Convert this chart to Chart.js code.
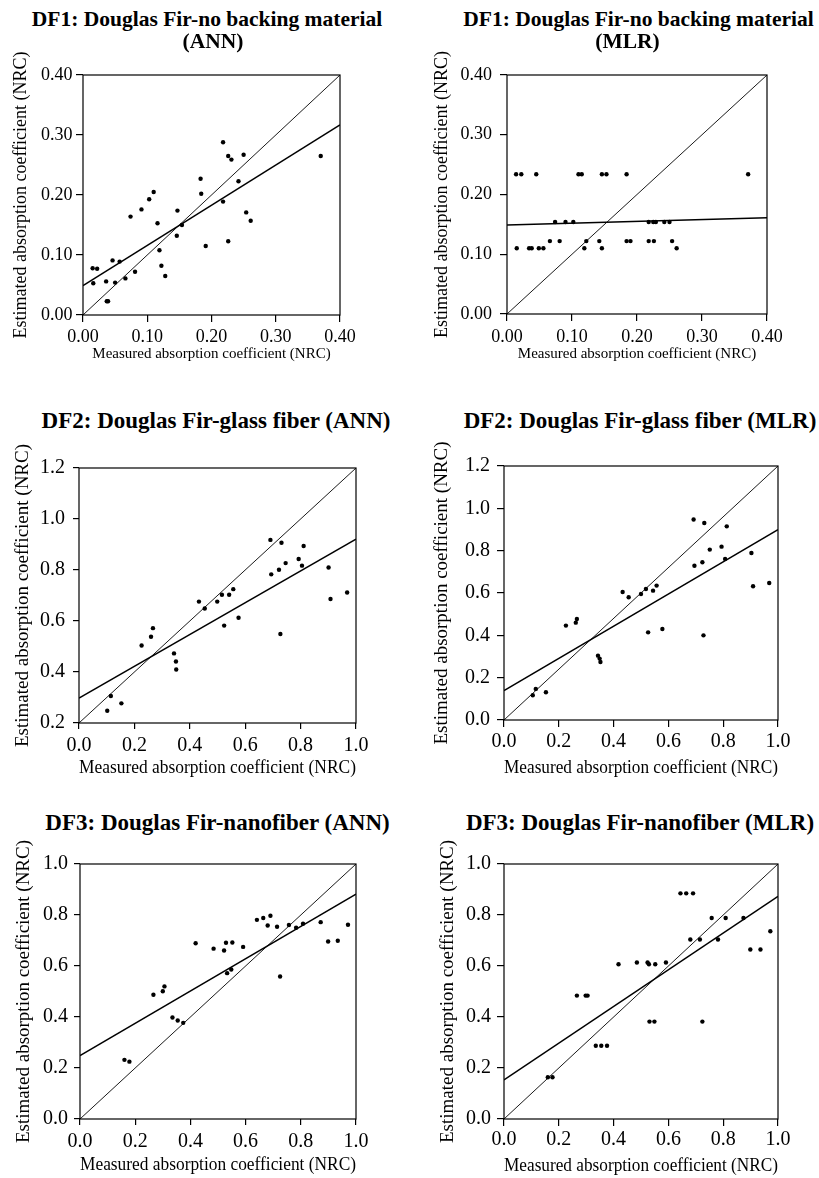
<!DOCTYPE html>
<html>
<head>
<meta charset="utf-8">
<script src="https://cdn.jsdelivr.net/npm/chart.js@4/dist/chart.umd.min.js"></script>
<style>
    html, body { margin: 0; padding: 0; background: #fff; }
    body { width: 819px; height: 1178px; position: relative; overflow: hidden; }
    canvas { position: absolute; }
    .ttl {
        position: absolute;
        font-family: 'Liberation Serif', 'Times New Roman', serif;
        font-weight: bold;
        color: #000;
        white-space: nowrap;
        line-height: 1;
        transform: translateX(-50%);
    }
</style>
</head>
<body>
<script>
// ---- data ----
const rangeDF1 = [0, 0.4];
const rangeUnit = [0, 1.0];
const rangeDF2annY = [0.2, 1.2];
const rangeDF2mlrY = [0, 1.2];

// DF1 (no backing material)
const df1AnnMeasured = [0.015, 0.022, 0.016, 0.036, 0.037, 0.039, 0.046, 0.050, 0.057, 0.066, 0.074, 0.081,
    0.091, 0.103, 0.110, 0.116, 0.119, 0.122, 0.128, 0.147, 0.146, 0.154, 0.183, 0.184, 0.191, 0.218,
    0.218, 0.226, 0.231, 0.226, 0.250, 0.242, 0.254, 0.261, 0.370];
const df1AnnEstimated = [0.078, 0.077, 0.053, 0.056, 0.023, 0.023, 0.091, 0.054, 0.089, 0.061, 0.164, 0.072,
    0.176, 0.193, 0.205, 0.153, 0.108, 0.082, 0.065, 0.174, 0.132, 0.150, 0.227, 0.202, 0.115, 0.288,
    0.189, 0.265, 0.259, 0.123, 0.267, 0.223, 0.171, 0.157, 0.265];
const df1AnnFit = [0.049, 0.317];

const df1MlrMeasured = [0.014, 0.022, 0.045, 0.110, 0.115, 0.146, 0.153, 0.184, 0.371,
    0.074, 0.090, 0.102, 0.218, 0.225, 0.229, 0.242, 0.250,
    0.066, 0.081, 0.122, 0.142, 0.184, 0.190, 0.218, 0.226, 0.254,
    0.015, 0.034, 0.038, 0.049, 0.056, 0.119, 0.146, 0.261];
const df1MlrEstimated = [0.234, 0.234, 0.234, 0.234, 0.234, 0.234, 0.234, 0.234, 0.234,
    0.154, 0.154, 0.154, 0.154, 0.154, 0.154, 0.154, 0.154,
    0.122, 0.122, 0.122, 0.122, 0.122, 0.122, 0.122, 0.122, 0.122,
    0.110, 0.110, 0.110, 0.110, 0.110, 0.110, 0.110, 0.110];
const df1MlrFit = [0.149, 0.161];

// DF2 (glass fiber)
const df2AnnMeasured = [0.102, 0.115, 0.153, 0.226, 0.260, 0.267, 0.343, 0.350, 0.351, 0.433, 0.454, 0.499,
    0.516, 0.524, 0.542, 0.557, 0.576, 0.691, 0.694, 0.722, 0.731, 0.727, 0.746, 0.793, 0.805, 0.811,
    0.901, 0.908, 0.968];
const df2AnnEstimated = [0.248, 0.306, 0.277, 0.504, 0.538, 0.572, 0.473, 0.441, 0.410, 0.676, 0.649, 0.676,
    0.703, 0.582, 0.703, 0.725, 0.613, 0.918, 0.783, 0.801, 0.907, 0.549, 0.827, 0.843, 0.817, 0.894,
    0.810, 0.686, 0.712];
const df2AnnFit = [0.298, 0.921];

const df2MlrMeasured = [0.105, 0.116, 0.153, 0.226, 0.262, 0.266, 0.343, 0.349, 0.352, 0.433, 0.455, 0.500,
    0.518, 0.526, 0.544, 0.557, 0.578, 0.692, 0.695, 0.724, 0.731, 0.728, 0.751, 0.794, 0.807, 0.813,
    0.903, 0.909, 0.968];
const df2MlrEstimated = [0.117, 0.147, 0.131, 0.446, 0.460, 0.477, 0.304, 0.290, 0.274, 0.605, 0.580, 0.595,
    0.619, 0.414, 0.611, 0.635, 0.430, 0.947, 0.729, 0.745, 0.931, 0.400, 0.805, 0.819, 0.761, 0.915,
    0.789, 0.632, 0.647];
const df2MlrFit = [0.139, 0.899];

// DF3 (nanofiber)
const df3AnnMeasured = [0.161, 0.179, 0.266, 0.300, 0.306, 0.335, 0.354, 0.374, 0.419, 0.484, 0.522, 0.529,
    0.533, 0.548, 0.552, 0.591, 0.641, 0.664, 0.680, 0.690, 0.714, 0.725, 0.757, 0.783, 0.808, 0.872,
    0.899, 0.934, 0.971];
const df3AnnEstimated = [0.232, 0.225, 0.487, 0.501, 0.520, 0.398, 0.386, 0.377, 0.689, 0.668, 0.661, 0.691,
    0.572, 0.586, 0.692, 0.675, 0.781, 0.788, 0.759, 0.797, 0.754, 0.559, 0.761, 0.750, 0.766, 0.772,
    0.696, 0.699, 0.762];
const df3AnnFit = [0.249, 0.882];

const df3MlrMeasured = [0.160, 0.177, 0.266, 0.298, 0.305, 0.335, 0.355, 0.376, 0.418, 0.485, 0.524, 0.529,
    0.552, 0.591, 0.531, 0.549, 0.644, 0.665, 0.690, 0.680, 0.715, 0.724, 0.758, 0.809, 0.781, 0.874,
    0.899, 0.936, 0.972];
const df3MlrEstimated = [0.164, 0.164, 0.484, 0.484, 0.484, 0.287, 0.287, 0.287, 0.607, 0.614, 0.614, 0.607,
    0.607, 0.614, 0.382, 0.382, 0.885, 0.885, 0.885, 0.704, 0.704, 0.382, 0.788, 0.788, 0.704, 0.788,
    0.665, 0.665, 0.736];
const df3MlrFit = [0.153, 0.873];

const xAxisTitle = 'Measured absorption coefficient (NRC)';
const yAxisTitle = 'Estimated absorption coefficient (NRC)';

// ---- layout ----
const FONT = "'Liberation Serif', 'Times New Roman', serif";

const panels = [
    { title: [['DF1: Douglas Fir-no backing material', 207, 19.5], ['(ANN)', 213, 41.5]], titleSize: 21.5,
      xs: df1AnnMeasured, ys: df1AnnEstimated, fit: df1AnnFit, xr: rangeDF1, yr: rangeDF1, step: 0.1, dec: 2,
      box: { l: 0, t: 50, w: 400, h: 320 }, plot: { l: 83, t: 75, r: 340, b: 315 },
      tick: 18, tickLen: 7, yPad: 3.5, xPad: 4, yTitle: 18, yTitleX: 21, xTitle: 15, xTitleY: 354 },
    { title: [['DF1: Douglas Fir-no backing material', 638.5, 20], ['(MLR)', 627.5, 41.5]], titleSize: 21.5,
      xs: df1MlrMeasured, ys: df1MlrEstimated, fit: df1MlrFit, xr: rangeDF1, yr: rangeDF1, step: 0.1, dec: 2,
      box: { l: 410, t: 50, w: 409, h: 320 }, plot: { l: 507, t: 75, r: 767, b: 314 },
      tick: 18, tickLen: 7, yPad: 8, xPad: 5, yTitle: 18, yTitleX: 442, xTitle: 15, xTitleY: 354 },
    { title: [['DF2: Douglas Fir-glass fiber (ANN)', 216, 420.5]], titleSize: 23,
      xs: df2AnnMeasured, ys: df2AnnEstimated, fit: df2AnnFit, xr: rangeUnit, yr: rangeDF2annY, step: 0.2, dec: 1,
      box: { l: 0, t: 440, w: 400, h: 340 }, plot: { l: 79, t: 468, r: 356, b: 723 },
      tick: 20, tickLen: 6, yPad: 8, xPad: 4.5, yTitle: 19, yTitleX: 23, xTitle: 19.5, xTitleY: 768 },
    { title: [['DF2: Douglas Fir-glass fiber (MLR)', 640, 420.5]], titleSize: 23,
      xs: df2MlrMeasured, ys: df2MlrEstimated, fit: df2MlrFit, xr: rangeUnit, yr: rangeDF2mlrY, step: 0.2, dec: 1,
      box: { l: 410, t: 440, w: 409, h: 340 }, plot: { l: 504, t: 466, r: 778, b: 720 },
      tick: 20, tickLen: 7, yPad: 7, xPad: 2.5, yTitle: 19, yTitleX: 442, xTitle: 19.5, xTitleY: 767.5 },
    { title: [['DF3: Douglas Fir-nanofiber (ANN)', 217.5, 822.5]], titleSize: 23,
      xs: df3AnnMeasured, ys: df3AnnEstimated, fit: df3AnnFit, xr: rangeUnit, yr: rangeUnit, step: 0.2, dec: 1,
      box: { l: 0, t: 840, w: 400, h: 338 }, plot: { l: 80, t: 864, r: 356, b: 1119 },
      tick: 20, tickLen: 6, yPad: 6, xPad: 4.5, yTitle: 19, yTitleX: 24, xTitle: 19.5, xTitleY: 1165 },
    { title: [['DF3: Douglas Fir-nanofiber (MLR)', 640, 822.5]], titleSize: 23,
      xs: df3MlrMeasured, ys: df3MlrEstimated, fit: df3MlrFit, xr: rangeUnit, yr: rangeUnit, step: 0.2, dec: 1,
      box: { l: 410, t: 840, w: 409, h: 338 }, plot: { l: 504, t: 864, r: 778, b: 1119 },
      tick: 20, tickLen: 7, yPad: 6, xPad: 1.5, yTitle: 19, yTitleX: 448, xTitle: 19.5, xTitleY: 1166.5 }
];

// box round the plot area
const framePlugin = {
    id: 'frame',
    afterDraw(chart) {
        const { ctx, chartArea: a } = chart;
        ctx.save();
        ctx.strokeStyle = '#000';
        ctx.lineWidth = 1.2;
        ctx.strokeRect(a.left, a.top, a.right - a.left, a.bottom - a.top);
        ctx.restore();
    }
};

function addTitle(p) {
    p.title.forEach(([text, cx, capY]) => {
        const d = document.createElement('div');
        d.className = 'ttl';
        d.textContent = text;
        d.style.fontSize = p.titleSize + 'px';
        d.style.left = cx + 'px';
        d.style.top = (capY - 0.507 * p.titleSize) + 'px';
        document.body.appendChild(d);
    });
}

function makeChart(p) {
    const cv = document.createElement('canvas');
    cv.width = p.box.w;
    cv.height = p.box.h;
    cv.style.left = p.box.l + 'px';
    cv.style.top = p.box.t + 'px';
    document.body.appendChild(cv);

    const yW = p.plot.l - p.box.l;
    const xH = p.box.t + p.box.h - p.plot.b;
    const bottom = p.box.t + p.box.h;

    const axisGrid = { drawOnChartArea: false, tickLength: p.tickLen, color: '#000', lineWidth: 1.2 };
    const tickFont = { family: FONT, size: p.tick };

    new Chart(cv, {
        type: 'scatter',
        data: {
            datasets: [
                {
                    data: p.xs.map((x, i) => ({ x: x, y: p.ys[i] })),
                    pointRadius: 2.2,
                    pointBackgroundColor: '#000',
                    pointBorderWidth: 0
                },
                {
                    data: [{ x: p.xr[0], y: p.fit[0] }, { x: p.xr[1], y: p.fit[1] }],
                    showLine: true, borderColor: '#000', borderWidth: 1.5, pointRadius: 0
                },
                {
                    data: [{ x: p.xr[0], y: p.yr[0] }, { x: p.xr[1], y: p.yr[1] }],
                    showLine: true, borderColor: '#000', borderWidth: 0.9, pointRadius: 0
                }
            ]
        },
        options: {
            responsive: false,
            animation: false,
            events: [],
            layout: { padding: { left: 0, top: p.plot.t - p.box.t, right: p.box.l + p.box.w - p.plot.r, bottom: 0 } },
            plugins: { legend: { display: false }, tooltip: { enabled: false } },
            scales: {
                x: {
                    type: 'linear', min: p.xr[0], max: p.xr[1],
                    ticks: {
                        stepSize: p.step, autoSkip: false, maxRotation: 0,
                        callback: v => Number(v).toFixed(p.dec),
                        font: tickFont, color: '#000', padding: p.xPad
                    },
                    grid: axisGrid,
                    border: { display: false },
                    title: {
                        display: true, text: xAxisTitle, color: '#000',
                        font: { family: FONT, size: p.xTitle },
                        padding: { top: 0, bottom: Math.max(0, bottom - p.xTitleY - p.xTitle * 0.6) }
                    },
                    afterFit: s => { s.height = xH; }
                },
                y: {
                    type: 'linear', min: p.yr[0], max: p.yr[1],
                    ticks: {
                        stepSize: p.step, autoSkip: false,
                        callback: v => Number(v).toFixed(p.dec),
                        font: tickFont, color: '#000', padding: p.yPad
                    },
                    grid: axisGrid,
                    border: { display: false },
                    title: {
                        display: true, text: yAxisTitle, color: '#000',
                        font: { family: FONT, size: p.yTitle },
                        padding: { top: p.yTitleX - p.box.l - p.yTitle * 0.6, bottom: 0 }
                    },
                    afterFit: s => { s.width = yW; }
                }
            }
        },
        plugins: [framePlugin]
    });
}

panels.forEach(p => { makeChart(p); addTitle(p); });
</script>
</body>
</html>
